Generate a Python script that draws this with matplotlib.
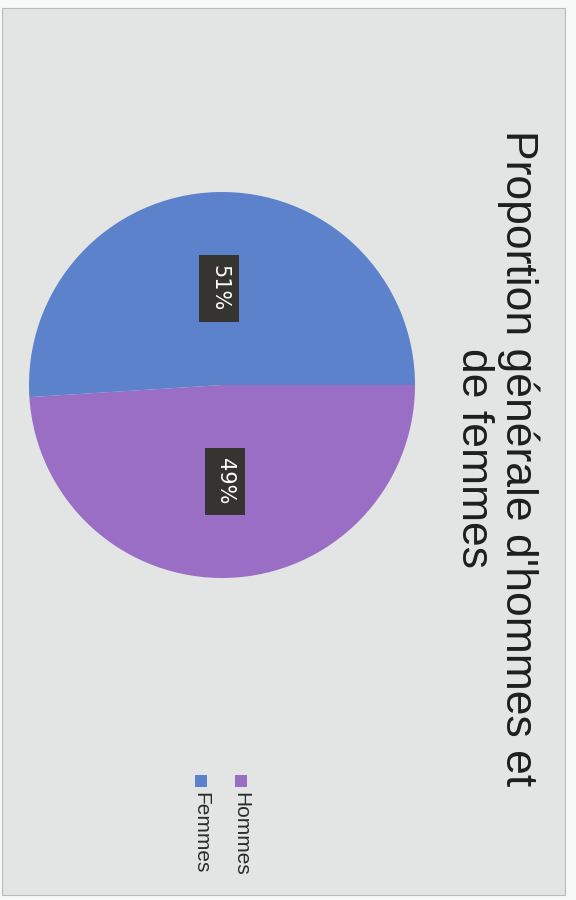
import matplotlib
matplotlib.use("Agg")
import matplotlib.pyplot as plt
from matplotlib.patches import Rectangle

# parts des hommes et des femmes (%)
labels = ["Hommes", "Femmes"]
values = [49, 51]
colors = ["#9a6ec4", "#5c82cb"]
title = "Proportion générale d'hommes et\nde femmes"

W, H = 576, 900
fig = plt.figure(figsize=(W / 100, H / 100), dpi=100, facecolor="#f7f8f8")

# feuille grise derrière le graphique
fig.patches.append(Rectangle((2 / W, 1 - 895 / H), 563 / W, 887 / H,
                             transform=fig.transFigure, fc="#e3e5e5",
                             ec="#b9bcbc", lw=0.8, zorder=-1))

# disque : centre (222, 385) px, rayon 193 px
cx, cy, r = 222, 385, 193
ax = fig.add_axes([(cx - r) / W, 1 - (cy + r) / H, 2 * r / W, 2 * r / H])
ax.set_zorder(1)
wedges, texts, autotexts = ax.pie(
    values, colors=colors, startangle=values[1] / 100 * 360,
    counterclock=True, autopct="%1.0f%%", pctdistance=0.5,
    wedgeprops=dict(linewidth=0))
for t in autotexts:
    t.set_rotation(-90)
    t.set_color("white")
    t.set_fontsize(15)
    t.set_family("DejaVu Sans")
    t.set_bbox(dict(boxstyle="square,pad=0.5", fc="#363431", ec="none"))
ax.set_xlim(-1, 1)
ax.set_ylim(-1, 1)
ax.set_aspect("equal")
ax.axis("off")

# titre tourné
fig.text(0.862, 1 - 458 / H, title, rotation=-90, ha="center", va="center",
         multialignment="center", fontsize=32, family="Liberation Sans",
         color="#1e1e1e", linespacing=1.1)

# légende
leg_x = [241, 201]
for lab, col, x in zip(labels, colors, leg_x):
    fig.patches.append(Rectangle(((x - 6) / W, 1 - 787 / H), 12 / W, 12 / H,
                                 transform=fig.transFigure, fc=col, ec="none"))
    fig.text(x / W, 1 - 792 / H, lab, rotation=-90, ha="center", va="top",
             fontsize=15, family="Liberation Sans", color="#2a2a2a")

fig.savefig("out.png", dpi=100, facecolor=fig.get_facecolor())
